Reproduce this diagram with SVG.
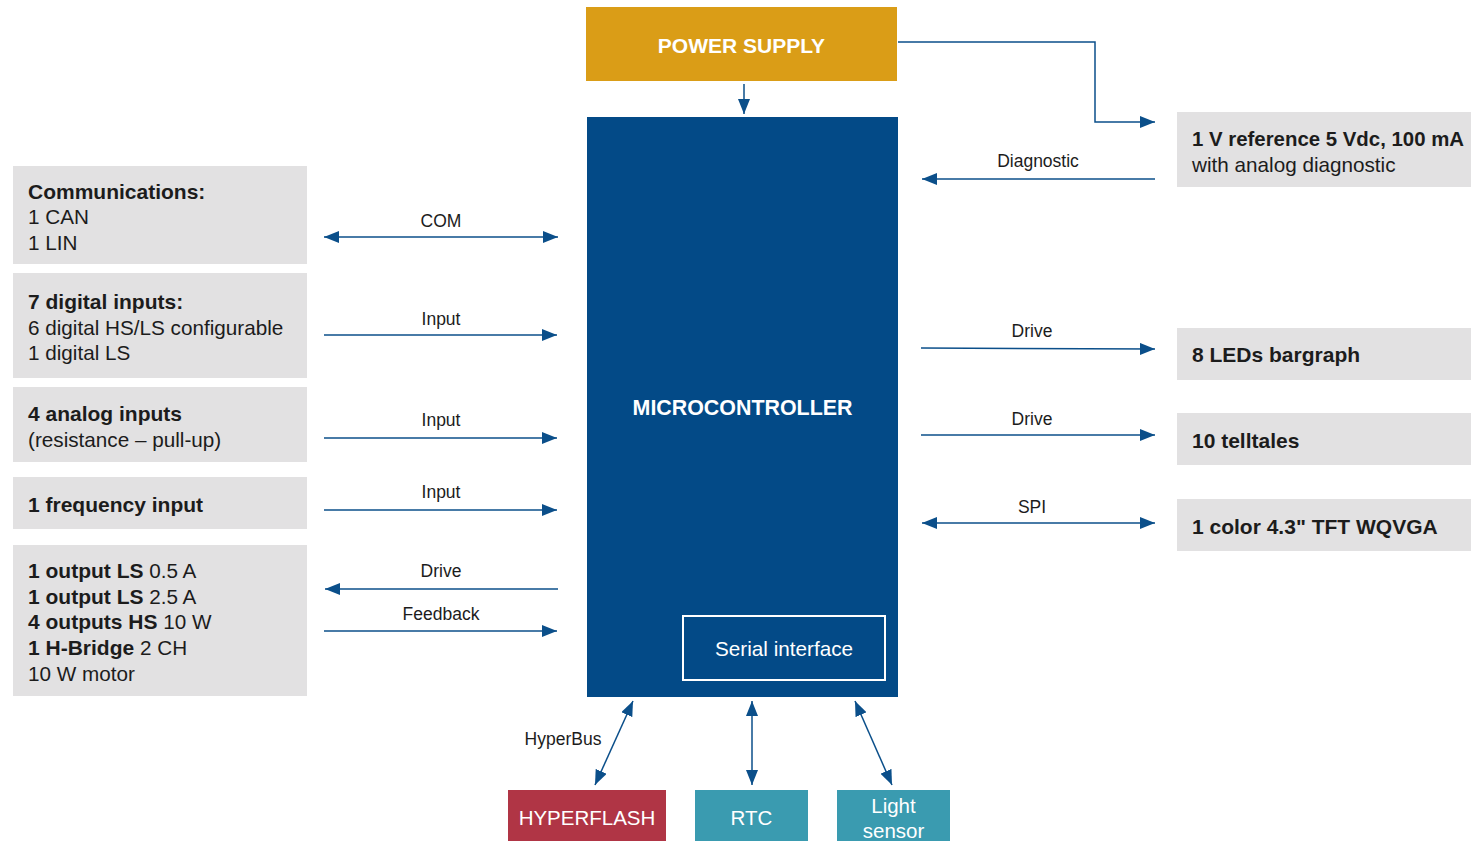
<svg xmlns="http://www.w3.org/2000/svg" width="1471" height="841" viewBox="0 0 1471 841">
<style>
.box{fill:#E2E1E2}
.t{font-family:"Liberation Sans",Arial,sans-serif;font-size:20.7px;fill:#1c1c1c}
.b{font-weight:bold;font-size:21px}
.lbl{font-family:"Liberation Sans",Arial,sans-serif;font-size:17.5px;fill:#1c1c1c;text-anchor:middle}
.w{font-family:"Liberation Sans",Arial,sans-serif;fill:#ffffff;text-anchor:middle}
.c{fill:none;stroke:#0B4F8A;stroke-width:1.5}
</style>
<defs>
<marker id="ah" viewBox="0 0 15 12" refX="15" refY="6" markerWidth="15" markerHeight="12" orient="auto-start-reverse" markerUnits="userSpaceOnUse">
<path d="M0,0 L15,6 L0,12 z" fill="#0B4F8A"/>
</marker>
</defs>
<rect width="1471" height="841" fill="#ffffff"/>

<g id="power-supply">
<rect x="586" y="7" width="311" height="74" fill="#DA9D17"/>
<text class="w" x="741.5" y="53" font-size="21" font-weight="bold">POWER SUPPLY</text>
</g>

<g id="microcontroller">
<rect x="587" y="117" width="311" height="580" fill="#034A87"/>
<text class="w" x="742.5" y="415" font-size="21.4" font-weight="bold">MICROCONTROLLER</text>
</g>

<g id="serial-interface">
<rect x="683" y="616" width="202" height="64" fill="none" stroke="#ffffff" stroke-width="2"/>
<text class="w" x="784" y="656" font-size="20.7">Serial interface</text>
</g>

<g id="communications">
<rect class="box" x="13" y="166" width="294" height="98"/>
<text class="t" x="28" y="199"><tspan class="b">Communications:</tspan></text>
<text class="t" x="28" y="224">1 CAN</text>
<text class="t" x="28" y="250">1 LIN</text>
</g>

<g id="digital-inputs">
<rect class="box" x="13" y="273" width="294" height="105"/>
<text class="t b" x="28" y="309">7 digital inputs:</text>
<text class="t" x="28" y="335">6 digital HS/LS configurable</text>
<text class="t" x="28" y="360">1 digital LS</text>
</g>

<g id="analog-inputs">
<rect class="box" x="13" y="387" width="294" height="75"/>
<text class="t b" x="28" y="421">4 analog inputs</text>
<text class="t" x="28" y="447">(resistance – pull-up)</text>
</g>

<g id="frequency-input">
<rect class="box" x="13" y="477" width="294" height="52"/>
<text class="t b" x="28" y="512">1 frequency input</text>
</g>

<g id="outputs">
<rect class="box" x="13" y="545" width="294" height="151"/>
<text class="t" x="28" y="578"><tspan class="b">1 output LS</tspan> 0.5 A</text>
<text class="t" x="28" y="604"><tspan class="b">1 output LS</tspan> 2.5 A</text>
<text class="t" x="28" y="629"><tspan class="b">4 outputs HS</tspan> 10 W</text>
<text class="t" x="28" y="655"><tspan class="b">1 H-Bridge</tspan> 2 CH</text>
<text class="t" x="28" y="681">10 W motor</text>
</g>

<g id="v-reference">
<rect class="box" x="1177" y="112" width="294" height="75"/>
<text class="t b" x="1192" y="146" style="font-size:20.4px">1 V reference 5 Vdc, 100 mA</text>
<text class="t" x="1192" y="172">with analog diagnostic</text>
</g>

<g id="leds-bargraph">
<rect class="box" x="1177" y="328" width="294" height="52"/>
<text class="t b" x="1192" y="362">8 LEDs bargraph</text>
</g>

<g id="telltales">
<rect class="box" x="1177" y="413" width="294" height="52"/>
<text class="t b" x="1192" y="448">10 telltales</text>
</g>

<g id="tft">
<rect class="box" x="1177" y="499" width="294" height="52"/>
<text class="t b" x="1192" y="534">1 color 4.3" TFT WQVGA</text>
</g>

<g id="hyperflash">
<rect x="508" y="790" width="158" height="51" fill="#B03545"/>
<text class="w" x="587" y="825" font-size="20.5">HYPERFLASH</text>
</g>

<g id="rtc">
<rect x="695" y="790" width="113" height="51" fill="#3A9BB0"/>
<text class="w" x="751.5" y="825" font-size="20.5">RTC</text>
</g>

<g id="light-sensor">
<rect x="837" y="790" width="113" height="51" fill="#3A9BB0"/>
<text class="w" x="893.5" y="813" font-size="20.5">Light</text>
<text class="w" x="893.5" y="838" font-size="20.5">sensor</text>
</g>

<g id="connectors">
<line class="c" x1="744" y1="84" x2="744" y2="114" marker-end="url(#ah)"/>
<polyline class="c" points="898,42 1095,42 1095,122 1155,122" marker-end="url(#ah)"/>
<line class="c" x1="1155" y1="179" x2="922" y2="179" marker-end="url(#ah)"/>
<text class="lbl" x="1038" y="167">Diagnostic</text>

<line class="c" x1="921" y1="348" x2="1155" y2="349" marker-end="url(#ah)"/>
<text class="lbl" x="1032" y="337">Drive</text>
<line class="c" x1="921" y1="435" x2="1155" y2="435" marker-end="url(#ah)"/>
<text class="lbl" x="1032" y="425">Drive</text>
<line class="c" x1="922" y1="523" x2="1155" y2="523" marker-start="url(#ah)" marker-end="url(#ah)"/>
<text class="lbl" x="1032" y="513">SPI</text>

<line class="c" x1="324" y1="237" x2="558" y2="237" marker-start="url(#ah)" marker-end="url(#ah)"/>
<text class="lbl" x="441" y="227">COM</text>
<line class="c" x1="324" y1="335" x2="557" y2="335" marker-end="url(#ah)"/>
<text class="lbl" x="441" y="325">Input</text>
<line class="c" x1="324" y1="438" x2="557" y2="438" marker-end="url(#ah)"/>
<text class="lbl" x="441" y="426">Input</text>
<line class="c" x1="324" y1="510" x2="557" y2="510" marker-end="url(#ah)"/>
<text class="lbl" x="441" y="498">Input</text>
<line class="c" x1="558" y1="589" x2="325" y2="589" marker-end="url(#ah)"/>
<text class="lbl" x="441" y="577">Drive</text>
<line class="c" x1="324" y1="631" x2="557" y2="631" marker-end="url(#ah)"/>
<text class="lbl" x="441" y="620">Feedback</text>

<line class="c" x1="633" y1="701" x2="595" y2="785" marker-start="url(#ah)" marker-end="url(#ah)"/>
<text class="lbl" x="563" y="745">HyperBus</text>
<line class="c" x1="752" y1="701" x2="752" y2="785" marker-start="url(#ah)" marker-end="url(#ah)"/>
<line class="c" x1="855" y1="701" x2="892" y2="785" marker-start="url(#ah)" marker-end="url(#ah)"/>
</g>
</svg>
